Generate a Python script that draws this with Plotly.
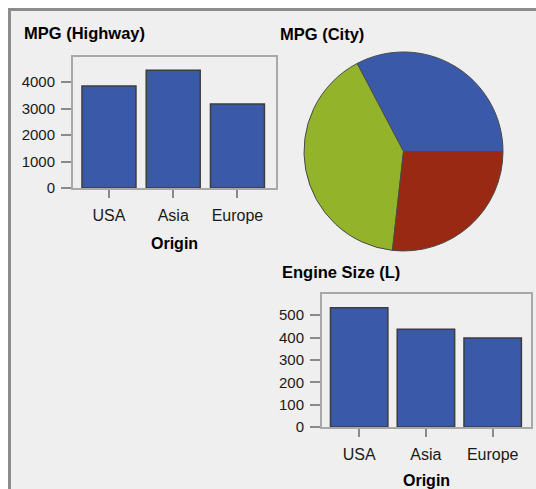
import plotly.graph_objects as go

# Values (sums by origin)
origins = ["USA", "Asia", "Europe"]
mpg_highway = [3850, 4450, 3170]
mpg_city = [2810, 3480, 2300]
engine_size = [534, 437, 398]

W, H = 536, 489


def px_x(x):
    return x / W


def px_y(y):
    return 1 - y / H


bar_color = "#3a5aa9"
pie_colors = ["#3a5aa9", "#93b32b", "#9a2913"]
font_name = "Liberation Sans, Arial, sans-serif"

# first slice (USA) starts at 3 o'clock and runs counterclockwise;
# plotly puts the end of the first slice at the rotation angle
pie_rotation = 90 - 360 * mpg_city[0] / sum(mpg_city)

fig = go.Figure()

# Top-left bar chart: MPG (Highway)
fig.add_trace(
    go.Bar(
        x=origins,
        y=mpg_highway,
        width=0.84,
        marker=dict(color=bar_color, line=dict(color="#3c3c3c", width=1.5)),
        xaxis="x",
        yaxis="y",
        hoverinfo="skip",
    )
)

# Pie: MPG (City)
fig.add_trace(
    go.Pie(
        labels=origins,
        values=mpg_city,
        sort=False,
        direction="counterclockwise",
        rotation=pie_rotation,
        marker=dict(colors=pie_colors, line=dict(color="#4a4a4a", width=1)),
        textinfo="none",
        hoverinfo="skip",
        domain=dict(x=[px_x(304), px_x(503)], y=[px_y(251), px_y(52)]),
    )
)

# Bottom bar chart: Engine Size (L)
fig.add_trace(
    go.Bar(
        x=origins,
        y=engine_size,
        width=0.86,
        marker=dict(color=bar_color, line=dict(color="#3c3c3c", width=1.5)),
        xaxis="x2",
        yaxis="y2",
        hoverinfo="skip",
    )
)

axis_common = dict(
    showline=True,
    linecolor="#a8a8a8",
    linewidth=2,
    mirror=True,
    showgrid=False,
    zeroline=False,
    automargin=False,
    ticks="outside",
    tickcolor="#8a8a8a",
    tickwidth=1.5,
)
x_font = dict(size=16, color="#1a1a1a", family=font_name)
y_font = dict(size=15, color="#1a1a1a", family=font_name)

fig.update_layout(
    width=W,
    height=H,
    margin=dict(l=0, r=0, t=0, b=0, pad=0, autoexpand=False),
    paper_bgcolor="white",
    plot_bgcolor="white",
    showlegend=False,
    font=dict(family=font_name, color="#1a1a1a"),
    xaxis=dict(
        axis_common,
        domain=[px_x(73), px_x(276)],
        range=[-0.56, 2.6],
        ticklen=8,
        ticklabelstandoff=4,
        tickfont=x_font,
        anchor="y",
    ),
    yaxis=dict(
        axis_common,
        domain=[px_y(188), px_y(57)],
        range=[0, 4950],
        dtick=1000,
        ticklen=10,
        ticklabelstandoff=3,
        tickfont=y_font,
        anchor="x",
    ),
    xaxis2=dict(
        axis_common,
        domain=[px_x(322), px_x(531)],
        range=[-0.557, 2.574],
        ticklen=8,
        ticklabelstandoff=4,
        tickfont=x_font,
        anchor="y2",
    ),
    yaxis2=dict(
        axis_common,
        domain=[px_y(427), px_y(294)],
        range=[0, 595],
        dtick=100,
        ticklen=10,
        ticklabelstandoff=3,
        tickfont=y_font,
        anchor="x2",
    ),
    shapes=[
        dict(
            type="rect",
            xref="paper",
            yref="paper",
            x0=px_x(9.5),
            x1=px_x(560),
            y0=px_y(520),
            y1=px_y(9.5),
            fillcolor="#efefef",
            line=dict(color="#8c8c8c", width=3),
            layer="below",
        )
    ],
)

titles = [
    ("MPG (Highway)", 22, 33, "left", 16.5),
    ("MPG (City)", 278, 34, "left", 16.5),
    ("Engine Size (L)", 280, 272, "left", 16.5),
    ("Origin", 174, 243, "center", 16),
    ("Origin", 426, 480, "center", 16),
]
for text, x, y, anchor, size in titles:
    fig.add_annotation(
        text="<b>%s</b>" % text,
        x=px_x(x),
        y=px_y(y),
        xref="paper",
        yref="paper",
        xanchor=anchor,
        yanchor="middle",
        showarrow=False,
        font=dict(size=size, color="black", family=font_name),
    )

# the page body has a default 8px margin; drop it so the chart sits at 0,0
fig.write_html(
    "out.html",
    config={"displayModeBar": False},
    post_script="document.body.style.margin='0px';",
)
